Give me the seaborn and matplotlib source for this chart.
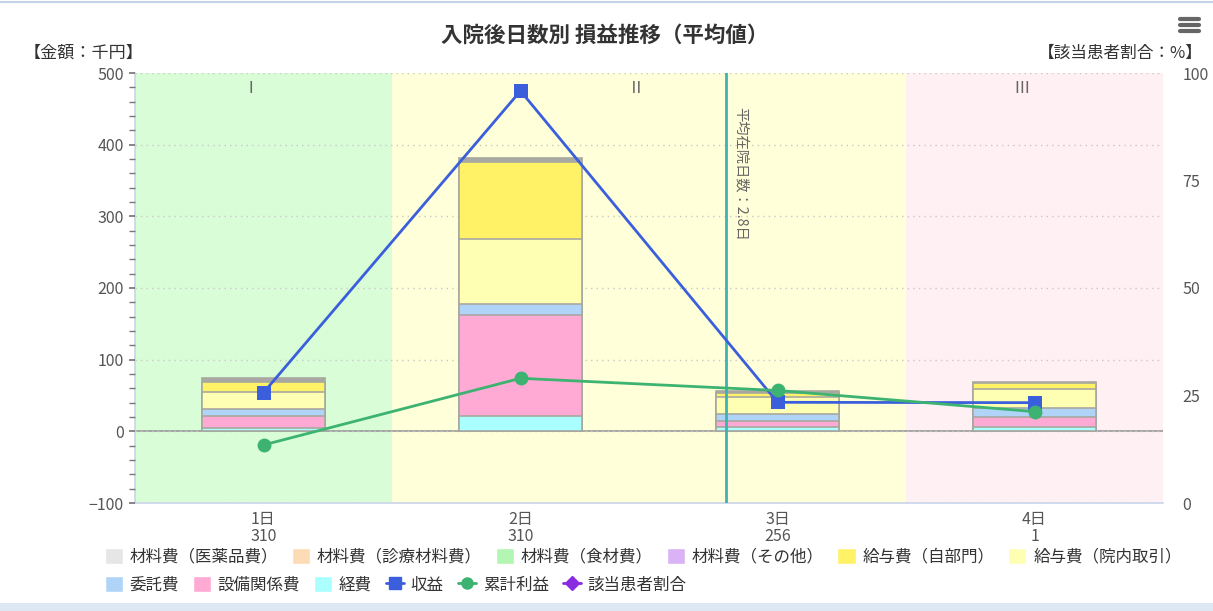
import numpy as np
import pandas as pd
import matplotlib
matplotlib.use("Agg")
import matplotlib.pyplot as plt
import seaborn as sns
from matplotlib.patches import Patch, Rectangle
from matplotlib.lines import Line2D

# data (千円)
days = ["1日", "2日", "3日", "4日"]
patients = [310, 310, 256, 1]
keihi = [5, 21, 5.5, 5.5]              # 経費
setsubi = [16, 141, 9, 14]             # 設備関係費
itaku = [10, 16, 10, 12.5]             # 委託費
kyuyo_innai = [24, 91, 23, 27]         # 給与費（院内取引）
kyuyo_jibumon = [14, 107, 5.5, 8]      # 給与費（自部門）
zairyo_sonota = [0, 0, 0, 0]           # 材料費（その他）
zairyo_shokuzai = [0, 0, 0, 0]         # 材料費（食材費）
zairyo_shinryo = [0, 0, 0, 0]          # 材料費（診療材料費）
zairyo_iyaku = [5, 5, 3, 2]            # 材料費（医薬品費）
shueki = [54, 475, 40.5, 40]           # 収益
ruikei = [-19, 74, 57, 27.5]           # 累計利益
avg_los = 2.8                          # 平均在院日数
band_labels = ["Ⅰ", "Ⅱ", "Ⅲ"]

# (name, values, legend colour, bar fill)
stack_order = [
    ("経費", keihi, "#aaffff", "#aaffff"),
    ("設備関係費", setsubi, "#ffaad4", "#ffaad4"),
    ("委託費", itaku, "#b0d4f8", "#b0d4f8"),
    ("給与費（院内取引）", kyuyo_innai, "#ffffb3", "#ffffb3"),
    ("給与費（自部門）", kyuyo_jibumon, "#fff266", "#fff266"),
    ("材料費（その他）", zairyo_sonota, "#d9b3f5", "#d9b3f5"),
    ("材料費（食材費）", zairyo_shokuzai, "#b3f5b3", "#b3f5b3"),
    ("材料費（診療材料費）", zairyo_shinryo, "#fddcb5", "#fddcb5"),
    ("材料費（医薬品費）", zairyo_iyaku, "#e6e6e6", "#a9a9a4"),
]

sns.set_theme(style="white")
plt.rcParams["font.family"] = ["Noto Sans CJK JP", "DejaVu Sans"]

fig = plt.figure(figsize=(12.13, 6.11), dpi=100)
ax = fig.add_axes([135 / 1213, 1 - 503 / 611, 1028 / 1213, 430 / 611])

df = pd.DataFrame({"day": days})
cum = np.zeros(len(days))
layers = []
for name, vals, _, fill in stack_order:
    cum = cum + np.array(vals, dtype=float)
    layers.append((name, cum.copy(), fill, any(v != 0 for v in vals)))

# draw the cumulative totals from the top down so each segment shows
for name, tops, col, visible in reversed(layers):
    if not visible:
        continue
    df["v"] = tops
    sns.barplot(data=df, x="day", y="v", color=col, saturation=1, width=0.48,
                edgecolor="#a8a8a0", linewidth=1.2, ax=ax, zorder=3)

# plot bands
ax.axvspan(-0.5, 0.5, color="#d9fdd6", zorder=0, lw=0)
ax.axvspan(0.5, 2.5, color="#ffffd9", zorder=0, lw=0)
ax.axvspan(2.5, 3.5, color="#fff0f3", zorder=0, lw=0)
for xc, lab in zip([0, 1.5, 3], band_labels):
    ax.text(xc - 0.05, 479, lab, ha="center", va="center", fontsize=12,
            color="#666666", zorder=5)

ax.axhline(0, color="#999999", lw=1.2, zorder=2)
ax.axvline(avg_los - 1, color="#3cb3b3", lw=2, zorder=4)
ax.text(avg_los - 1 + 0.03, 452, f"平均在院日数：{avg_los}日", rotation=270,
        ha="left", va="top", fontsize=10.3, color="#666666", zorder=5)

lines = pd.DataFrame({"pos": np.arange(len(days)), "収益": shueki, "累計利益": ruikei})
sns.lineplot(data=lines, x="pos", y="収益", color="#3b5fdc", linewidth=2,
             marker="s", markersize=10, markeredgewidth=0, ax=ax, zorder=6,
             legend=False)
sns.lineplot(data=lines, x="pos", y="累計利益", color="#3cb371", linewidth=2,
             marker="o", markersize=10, markeredgewidth=0, ax=ax, zorder=6,
             legend=False)

ax.set_xlim(-0.5, 3.5)
ax.set_ylim(-100, 500)
ax.set_yticks(range(-100, 501, 100))
ax.set_yticks(range(-100, 501, 20), minor=True)
ax.grid(axis="y", which="major", color="#c8c8c8", linestyle=(0, (1, 3)), lw=1)
ax.set_axisbelow(False)
ax.set_xticks(range(len(days)))
ax.set_xticklabels([f"{d}\n{p}" for d, p in zip(days, patients)], linespacing=0.95)
ax.set_xticks(np.arange(-0.5, 3.6, 1), minor=True)
ax.tick_params(axis="x", which="major", length=0, labelsize=11.5,
               labelcolor="#555555", pad=6)
ax.tick_params(axis="x", which="minor", length=9, color="#ccd6eb", width=1)
ax.tick_params(axis="y", which="both", left=True, length=4, color="#777777",
               labelsize=11.5, labelcolor="#555555", pad=4)
ax.set_xlabel("")
ax.set_ylabel("")
for s in ["top", "right"]:
    ax.spines[s].set_visible(False)
ax.spines["left"].set_color("#ccd6eb")
ax.spines["bottom"].set_color("#ccd6eb")

ax2 = ax.twinx()
ax2.set_ylim(0, 100)
ax2.set_yticks([0, 25, 50, 75, 100])
ax2.tick_params(axis="y", length=0, labelsize=11.5, labelcolor="#555555", pad=14)
for s in ax2.spines.values():
    s.set_visible(False)
ax2.grid(False)

fig.text(605 / 1213, 1 - 35 / 611, "入院後日数別 損益推移（平均値）", ha="center",
         va="center", fontsize=15.5, fontweight="bold", color="#333333")
fig.text(24 / 1213, 1 - 53 / 611, "【金額：千円】", ha="left", va="center",
         fontsize=12.3, color="#333333")
fig.text(1203 / 1213, 1 - 53 / 611, "【該当患者割合：%】", ha="right", va="center",
         fontsize=12, color="#333333")

# menu icon, frame lines
for yy in [19, 25, 31]:
    fig.add_artist(Line2D([1180 / 1213, 1199 / 1213], [1 - yy / 611] * 2,
                          color="#666666", lw=3, solid_capstyle="round"))
fig.add_artist(Line2D([0, 1], [1 - 2 / 611] * 2, color="#c5d3e8", lw=1.5))
fig.add_artist(Rectangle((0, 0), 1, 8 / 611, transform=fig.transFigure,
                         color="#dde6f3", lw=0))

legend_names = [n for n, _, _, _ in stack_order][::-1]
legend_cols = {n: c for n, _, c, _ in stack_order}
row1 = [Patch(facecolor=legend_cols[n], label=n) for n in legend_names[:6]]
row2 = [Patch(facecolor=legend_cols[n], label=n) for n in legend_names[6:]]
row2 += [
    Line2D([], [], color="#3b5fdc", lw=2, marker="s", markersize=8, label="収益"),
    Line2D([], [], color="#3cb371", lw=2, marker="o", markersize=8, label="累計利益"),
    Line2D([], [], color="#8a2be2", lw=2, marker="D", markersize=7, label="該当患者割合"),
]
common = dict(frameon=False, fontsize=11.9, handlelength=1.1, handleheight=1.1,
              handletextpad=0.4, columnspacing=0.85, borderaxespad=0,
              labelcolor="#333333", loc="center left")
fig.legend(handles=row1, ncol=6, bbox_to_anchor=(98 / 1213, 1 - 557 / 611), **common)
fig.legend(handles=row2, ncol=6, bbox_to_anchor=(98 / 1213, 1 - 585 / 611), **common)

fig.savefig("out.png", dpi=100)
